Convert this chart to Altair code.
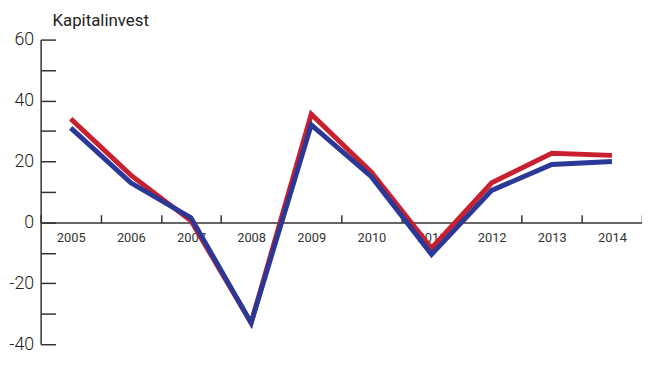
import altair as alt
import pandas as pd

years = ["2005", "2006", "2007", "2008", "2009", "2010", "2011", "2012", "2013", "2014"]
red_values = [34, 15.5, 0.5, -33, 35.5, 16.5, -8.5, 13, 22.7, 22]
blue_values = [31, 13, 1.5, -33, 32, 15, -10.5, 10.5, 19, 20]
y_ticks = [-40, -30, -20, -10, 0, 10, 20, 30, 40, 50, 60]
title_text = ["Kapitalinvest"]

FONT = "Roboto"
W = 608
H = 308

df = pd.DataFrame({
    "year": years * 2,
    "value": red_values + blue_values,
    "series": ["röd"] * len(years) + ["blå"] * len(years),
})

x = alt.X("year:O", scale=alt.Scale(type="band", domain=years, paddingInner=0, paddingOuter=0),
          bandPosition=0.5,
          axis=alt.Axis(orient="top", offset=-185, title=None, labelAngle=0, tickBand="extent",
                        tickSize=8, domainColor="#333", tickColor="#333", domainWidth=1.5,
                        tickWidth=1.5, labelFont=FONT, labelFontSize=13, labelColor="#333",
                        labelBaseline="top", labelPadding=-17))
y = alt.Y("value:Q", scale=alt.Scale(domain=[-40, 60], nice=False),
          axis=alt.Axis(orient="right", offset=-W, title=None, values=y_ticks, tickSize=15,
                        grid=False, domainColor="#333", tickColor="#333", domainWidth=1.5,
                        tickWidth=1.5, labelAlign="right", labelPadding=-22,
                        labelExpr="datum.value % 20 == 0 ? toString(datum.value) : ''",
                        labelFont=FONT, labelFontSize=18, labelFontWeight=300, labelColor="#222",
                        labelBaseline="middle", labelOverlap=False))

red = alt.Chart(df).transform_filter("datum.series == 'röd'").mark_line(
    color="#c8202f", strokeWidth=5, strokeJoin="miter").encode(x=x, y=y)
blue = alt.Chart(df).transform_filter("datum.series == 'blå'").mark_line(
    color="#2b3896", strokeWidth=5, strokeJoin="miter").encode(x=x, y=y)

title = alt.Chart(pd.DataFrame({"t": title_text})).mark_text(
    font=FONT, fontSize=17, color="#222", align="left", baseline="alphabetic"
).encode(text="t:N", x=alt.value(12), y=alt.value(-14))

chart = alt.layer(red, blue, title).properties(
    width=W, height=H,
    autosize=alt.AutoSizeParams(type="none"),
    padding={"left": 33, "top": 30, "right": 0, "bottom": 16},
).configure_view(stroke=None)

chart.save("out.html", embed_options={"renderer": "svg", "actions": False})
